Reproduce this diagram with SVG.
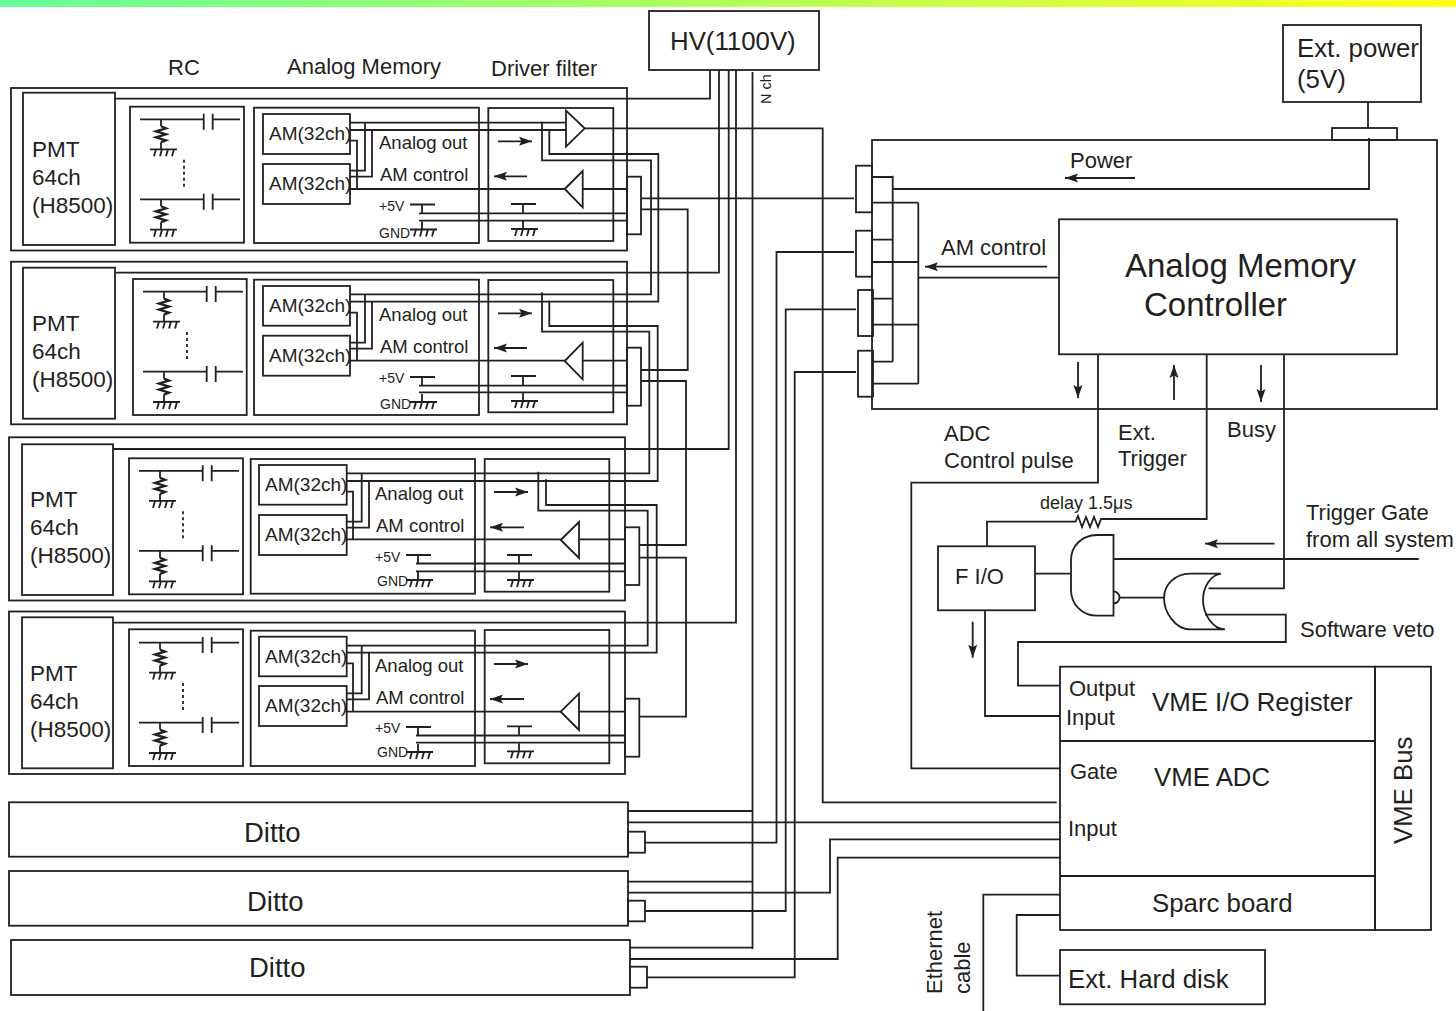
<svg xmlns="http://www.w3.org/2000/svg" width="1456" height="1011" viewBox="0 0 1456 1011">
<style>
text{font-family:"Liberation Sans",Arial,sans-serif;fill:#231f20;font-size:22px}
rect,path,polygon,use{fill:none;stroke:#231f20;stroke-width:1.8}
.pm{font-size:22.500px}.am{font-size:19px}.lb{font-size:18.500px}.sm{font-size:14px}.gn{font-size:14px}.big{font-size:33px}.md{font-size:25.800px}.dt{font-size:27.500px}
.ar{marker-end:url(#a)}
</style>
<defs>
<linearGradient id="top" x1="0" x2="1" y1="0" y2="0"><stop offset="0" stop-color="#66ff99"/><stop offset="1" stop-color="#ffff1a"/></linearGradient>
<marker id="a" markerUnits="userSpaceOnUse" markerWidth="14" markerHeight="10" refX="13" refY="5" orient="auto"><path d="M0 .5L13 5L0 9.500L2.500 5z" style="fill:#231f20;stroke:none"/></marker>
<g id="g"><path d="M0 0H27M6 0L4 7M12 0L10 7M18 0L16 7M24 0L22 7"/></g>
<g id="coil"><path d="M0 0V7M0 23V30"/><path style="stroke-width:2.300" d="M0 7L5 9L-5 12L5 15L-5 18L5 21L0 23"/></g>
<g id="rc">
<path d="M10 12.600H73.700M82.700 12.600H110M73.700 7V23M82.700 7V23M10 92.600H73.700M82.700 92.600H110M73.700 87V103M82.700 87V103"/>
<use href="#coil" x="31" y="12.600"/><use href="#g" x="20" y="42.600"/>
<use href="#coil" x="31" y="92.600"/><use href="#g" x="20" y="123"/>
<path d="M54 53V80" stroke-dasharray="3 3"/>
</g>
<g id="df">
<path d="M0 0H25M12 0V9M12 17V25"/>
<use href="#g" x="0" y="25"/>
</g>
</defs>
<rect x="0" y="0" width="1456" height="7" style="fill:url(#top);stroke:none"/>

<g id="headers">
<text x="168" y="75">RC</text><text x="287" y="74">Analog Memory</text><text x="491" y="76">Driver filter</text>
</g>

<g id="module1">
<rect x="11" y="88" width="616" height="162.500"/><rect x="23" y="92.700" width="92" height="152.300"/>
<text class="pm" x="32" y="157">PMT</text><text class="pm" x="32" y="185">64ch</text><text class="pm" x="32" y="213">(H8500)</text>
<rect x="130" y="106.700" width="114" height="136"/><use href="#rc" x="130" y="106.700"/>
<rect x="254" y="107.700" width="225" height="135.300"/>
<rect x="263" y="114" width="87" height="40"/><rect x="263" y="164" width="87" height="40"/>
<text class="am" x="269" y="140">AM(32ch)</text><text class="am" x="269" y="190">AM(32ch)</text>
<text class="lb" x="379" y="149">Analog out</text><text class="lb" x="380" y="181">AM control</text>
<text class="sm" x="379" y="211">+5V</text><text class="gn" x="379" y="238">GND</text>
<use href="#df" x="410" y="204.500"/>
<rect x="488.300" y="108" width="125" height="133"/>
<polygon points="566,110.700 566,146.700 584.700,128.300"/><polygon points="564.700,189 582.700,171 582.700,207.300"/>
<path class="ar" d="M498 141.300H532"/><path class="ar" d="M527 176.300H494"/>
<use href="#df" x="511" y="204"/>
<rect x="627" y="176.700" width="14" height="57.600"/>
</g>

<g id="module2">
<rect x="11" y="261.700" width="616" height="162.600"/><rect x="23" y="267.700" width="92" height="151"/>
<text class="pm" x="32" y="331">PMT</text><text class="pm" x="32" y="359">64ch</text><text class="pm" x="32" y="387">(H8500)</text>
<rect x="133" y="279" width="113.700" height="136"/><use href="#rc" x="133" y="279"/>
<rect x="254" y="279.700" width="225" height="135.300"/>
<rect x="263" y="286" width="87" height="39.700"/><rect x="263" y="335.700" width="87" height="40"/>
<text class="am" x="269" y="312">AM(32ch)</text><text class="am" x="269" y="362">AM(32ch)</text>
<text class="lb" x="379" y="321">Analog out</text><text class="lb" x="380" y="353">AM control</text>
<text class="sm" x="379" y="383">+5V</text><text class="gn" x="380" y="409">GND</text>
<use href="#df" x="410" y="377"/>
<rect x="488.300" y="280" width="125" height="132.300"/>
<polygon points="564.700,361 582.700,342.700 582.700,379.300"/>
<path class="ar" d="M498 313.300H532"/><path class="ar" d="M527 348H494"/>
<use href="#df" x="511" y="376"/>
<rect x="627" y="347.700" width="14" height="58"/>
</g>

<g id="module3">
<rect x="9" y="437.300" width="616" height="163.200"/><rect x="22" y="444.300" width="91" height="150.700"/>
<text class="pm" x="30" y="507">PMT</text><text class="pm" x="30" y="535">64ch</text><text class="pm" x="30" y="563">(H8500)</text>
<rect x="129" y="458.300" width="114" height="136"/><use href="#rc" x="129" y="458.300"/>
<rect x="250.700" y="459" width="224.300" height="134.700"/>
<rect x="259" y="465" width="87.700" height="39.700"/><rect x="259" y="515" width="87.700" height="40"/>
<text class="am" x="265" y="491">AM(32ch)</text><text class="am" x="265" y="541">AM(32ch)</text>
<text class="lb" x="375" y="500">Analog out</text><text class="lb" x="376" y="532">AM control</text>
<text class="sm" x="375" y="562">+5V</text><text class="gn" x="377" y="586">GND</text>
<use href="#df" x="406" y="555"/>
<rect x="484.700" y="459" width="124.600" height="132.700"/>
<polygon points="560.700,540 579,522 579,558"/>
<path class="ar" d="M494 492H528"/><path class="ar" d="M524 527.300H490"/>
<use href="#df" x="507" y="555"/>
<rect x="625" y="527.300" width="14.300" height="57.700"/>
</g>

<g id="module4">
<rect x="9" y="611.500" width="616" height="162.500"/><rect x="22" y="617.300" width="91" height="151"/>
<text class="pm" x="30" y="681">PMT</text><text class="pm" x="30" y="709">64ch</text><text class="pm" x="30" y="737">(H8500)</text>
<rect x="129" y="629.300" width="114" height="136.700"/><use href="#rc" x="129" y="630"/>
<rect x="250.700" y="630.700" width="224.300" height="135.300"/>
<rect x="259" y="636.700" width="87.700" height="39.600"/><rect x="259" y="686" width="87.700" height="40"/>
<text class="am" x="265" y="663">AM(32ch)</text><text class="am" x="265" y="712">AM(32ch)</text>
<text class="lb" x="375" y="672">Analog out</text><text class="lb" x="376" y="704">AM control</text>
<text class="sm" x="375" y="733">+5V</text><text class="gn" x="377" y="757">GND</text>
<use href="#df" x="406" y="727"/>
<rect x="484.700" y="630" width="124.600" height="133.300"/>
<polygon points="560.700,711.700 579,693.700 579,730"/>
<path class="ar" d="M494 664H528"/><path class="ar" d="M524 699H490"/>
<use href="#df" x="507" y="726.300"/>
<rect x="625" y="698.700" width="14.300" height="58"/>
</g>

<g id="ditto1"><rect x="9" y="802.300" width="619" height="54.400"/><rect x="628" y="831.700" width="17" height="21"/><text class="dt" x="244" y="842">Ditto</text></g>
<g id="ditto2"><rect x="9" y="871" width="619" height="54.700"/><rect x="628" y="900.700" width="17" height="20.600"/><text class="dt" x="247" y="911">Ditto</text></g>
<g id="ditto3"><rect x="11" y="940" width="619" height="55"/><rect x="630" y="966.700" width="17" height="21"/><text class="dt" x="249" y="977">Ditto</text></g>

<g id="hv"><rect x="649" y="11" width="170" height="59"/><text class="md" x="670" y="50">HV(1100V)</text>
<text style="font-size:14.500px" transform="translate(770.500 104) rotate(-90)">N ch</text></g>

<g id="extpower"><rect x="1283" y="25" width="138" height="77"/><text class="md" x="1297" y="57">Ext. power</text><text class="md" x="1297" y="88">(5V)</text></g>

<g id="controller-board">
<rect x="872" y="140" width="565" height="269"/><rect x="1332" y="128" width="65" height="12"/>
<rect x="856" y="165.700" width="16" height="46.600"/><rect x="856" y="230.700" width="16" height="46"/>
<rect x="858" y="290" width="15" height="46"/><rect x="858" y="350.700" width="15" height="46"/>
<text x="1070" y="168">Power</text><text x="941" y="255">AM control</text>
<path class="ar" d="M1135 178H1065"/><path class="ar" d="M1047 266.700H925"/>
<path class="ar" d="M1078 362V398"/><path class="ar" d="M1174 400V365"/><path class="ar" d="M1261 365V402"/>
</g>
<g id="amc"><rect x="1059" y="219.300" width="338" height="135"/><text class="big" x="1125" y="277">Analog Memory</text><text class="big" x="1144" y="316">Controller</text></g>

<g id="signal-labels">
<text x="944" y="441">ADC</text><text x="944" y="468">Control pulse</text>
<text x="1118" y="440">Ext.</text><text x="1118" y="466">Trigger</text><text x="1227" y="437">Busy</text>
<text style="font-size:18px" x="1040" y="509">delay 1.5μs</text>
<text x="1306" y="520">Trigger Gate</text><text x="1306" y="547">from all system</text>
<text x="1300" y="637">Software veto</text>
<path class="ar" d="M1274.500 543.700H1205"/><path class="ar" d="M972.700 621.700V657.700"/>
</g>

<g id="fio"><rect x="938" y="546.300" width="97" height="64"/><text x="955" y="584">F I/O</text></g>
<g id="and"><path d="M1113.500 535H1097C1082 535 1071 546 1071 560V590C1071 604 1082 615.700 1097 615.700H1113.500Z"/><path d="M1113.500 591.500A6 6 0 0 1 1113.500 603.500"/></g>
<g id="or"><path d="M1221 573.700H1190C1175 573.700 1164 585 1164 598C1164 612 1175 629.300 1190 629.300H1225C1212 629.300 1203 613 1203 600C1203 588 1210 575 1221 573.700Z"/></g>

<g id="vme">
<rect x="1060" y="666.700" width="315" height="263.300"/><rect x="1375" y="666.700" width="56" height="263.300"/>
<path d="M1060 741H1375M1060 876H1375"/>
<text x="1069" y="696">Output</text><text x="1066" y="725">Input</text><text class="md" x="1152" y="711">VME I/O Register</text>
<text x="1070" y="779">Gate</text><text class="md" x="1154" y="786">VME ADC</text><text x="1068" y="836">Input</text><text class="md" x="1152" y="912">Sparc board</text>
<text class="md" transform="translate(1412 844) rotate(-90)">VME Bus</text>
</g>
<g id="disk"><rect x="1060" y="950" width="205" height="54.300"/><text class="md" x="1068" y="988">Ext. Hard disk</text></g>
<g id="ethernet-label"><text transform="translate(942 994) rotate(-90)">Ethernet</text><text transform="translate(970 994) rotate(-90)">cable</text></g>

<g id="connectors">
<path d="M115 98.700H710V70M350 122.700H566M350 130H566M365 122.700V170.700H350M372 130V176.700H350M350 140.700H357V189M350 189H564.700M582.700 189H627M419 213.300H627M419 220.700H627"/>
<path d="M542 121.700V160.300H651V294.300H350M549.300 129V154H658.300V301.700H350"/>
<path d="M585 128.300H822.700V802.300H1056.700"/>
<path d="M641 198.300H854M641 209.300H687.700V370H641"/>
<path d="M115 272.700H719V70M365 294.300V342.700H350M372 301.700V348.700H350M350 312.700H357V360.700M350 360.700H564.700M582.700 360.700H627M419 385.700H627M419 392.300H627"/>
<path d="M542 292.300V331.700H649.300V473.300H346.700M549.300 300.700V326H657.700V481H346.700"/>
<path d="M641 381H686V545H639"/>
<path d="M113 449H728.700V70M361.700 473V521.700H346.700M369 480.700V527.700H346.700M346.700 491.700H353V539.300M346.700 539.300H560.700M579 539.300H625M416 563.500H625M416 571.300H625"/>
<path d="M538.300 471.700V510.700H647.700V645.700H346.700M546 479.300V505H656.700V652.700H346.700"/>
<path d="M639 557.700H686V716.700H639.300"/>
<path d="M113 622.700H736V70M361.700 645V693.400H346.700M369 653V699.400H346.700M346.700 663.400H353V711.700M346.700 711.700H560.700M579 711.700H625M416 735.500H625M416 742.700H625"/>
<path d="M752.500 72V949M628 811H752.500M628 881.700H752.500M630 947.700H752.500"/>
<path d="M645 842.700H776.500V252H854M645 911H785.700V309.300H856M647 977.300H794.700V372H856"/>
<path d="M627 822.300H1060M628 892.700H830V839.300H1060M630 959H837.700V857.700H1060"/>
<path d="M1368 102V128M1369 138V189H892.700M892.700 175.700V361.700M872 177H892.700M872 239.700H892.700M872 298.700H892.700M872 361.700H892.700"/>
<path d="M918.300 202.700V383.700M872 202.700H918.300M872 262H918.300M872 324.700H918.300M872 383.700H918.300M918.300 277.700H1059"/>
<path d="M1098 354V482.700H911.300V768.300H1060"/>
<path d="M1206.700 354V519H1105L1101 519L1098 527L1094 517L1090 527L1086 517L1082 527L1078 516L1075.500 521.700H987V546.300"/>
<path d="M1284 354V588.300H1208.500"/>
<path d="M1035 573.700H1071M1113.500 559H1418.800M1119.500 597.700H1164"/>
<path d="M1205 614.700H1285.800V642H1018V685.700H1060M985 610.300V716H1060"/>
<path d="M1060 894.700H983.300V1011M1060 915H1016.700V975.700H1060"/>
</g>
</svg>
